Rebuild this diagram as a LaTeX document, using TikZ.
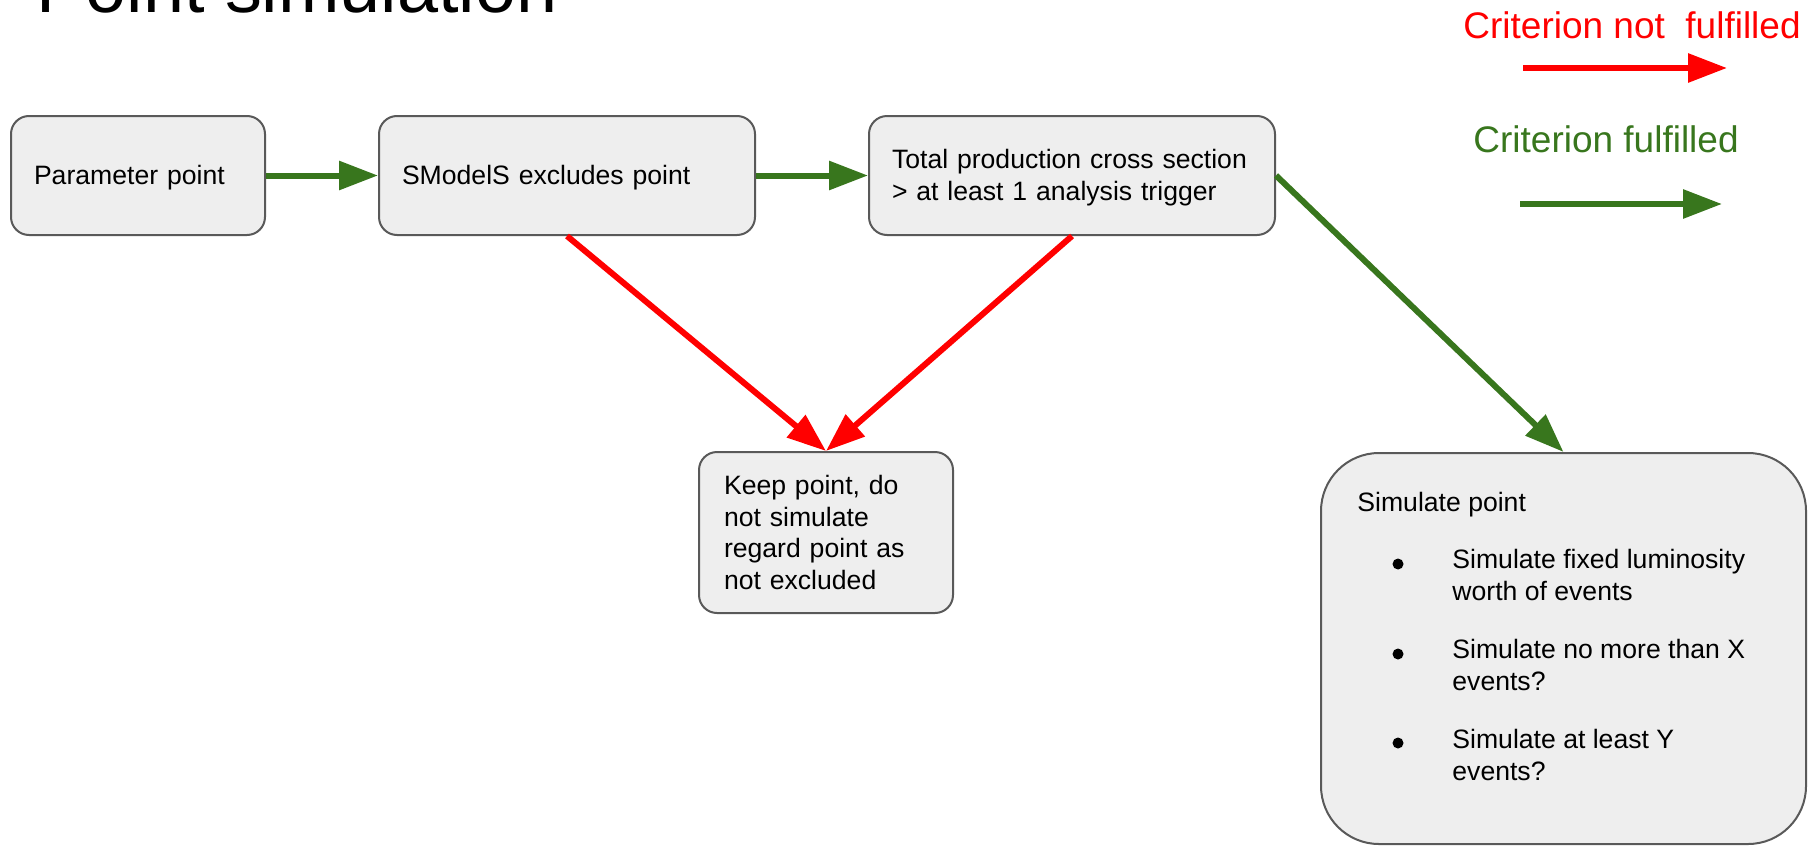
\documentclass[tikz,border=0pt]{standalone}
\usepackage{fontspec}
\setmainfont{Liberation Sans}
\usetikzlibrary{arrows.meta}
\definecolor{gslred}{HTML}{FF0000}
\definecolor{gslgreen}{HTML}{38761D}
\definecolor{boxfill}{HTML}{EEEEEE}
\definecolor{boxline}{HTML}{595959}
\begin{document}
\begin{tikzpicture}[x=0.5pt,y=-0.5pt,
  box/.style={draw=boxline, line width=1pt, fill=boxfill, rounded corners=9pt,
    inner xsep=11.5pt, inner ysep=0pt, align=left,
    font={\fontsize{13.3}{15.85}\selectfont}, minimum height=59.5pt},
  boxtext/.style={anchor=base west, inner sep=0pt, align=left,
    font={\fontsize{13.3}{15.85}\selectfont}},
  bulletdot/.style={circle, fill=black, inner sep=0pt, minimum size=5.5pt},
  yes/.style={draw=gslgreen, line width=3pt, -{Triangle[length=19.5pt,width=14pt]}},
  no/.style={draw=gslred, line width=3pt, -{Triangle[length=19.5pt,width=14pt]}},
  legendtext/.style={anchor=base west, inner sep=0pt, font={\fontsize{18.5}{22}\selectfont}}
]
\useasboundingbox (0,0) rectangle (1808,846);
\clip (0,0) rectangle (1808,846);

% title
\node[anchor=base west, inner sep=0pt, font={\fontsize{36.9}{44}\selectfont}] (title) at (36,12.7) {Point simulation};

% legend
\node[legendtext, text=gslred] (lno) at (1463,38) {Criterion not\ \ fulfilled};
\coordinate (lnoa) at (1523,68);
\coordinate (lnob) at (1727,68);
\draw[no] (lnoa) -- (lnob);
\node[legendtext, text=gslgreen] (lyes) at (1473,152) {Criterion fulfilled};
\coordinate (lyesa) at (1520,204);
\coordinate (lyesb) at (1722,204);
\draw[yes] (lyesa) -- (lyesb);

% boxes
\node[box, minimum width=127pt, text width=104pt] (b1) at (138,175.5) {\rule{0pt}{12pt}Parameter point};
\node[box, minimum width=188pt, text width=165pt] (b2) at (567,175.5) {\rule{0pt}{12pt}SModelS excludes point};
\node[box, minimum width=203pt, text width=180pt] (b3) at (1072,175.5) {\rule{0pt}{12pt}Total production cross section\\> at least 1 analysis trigger};
\node[box, minimum width=127pt, minimum height=80.5pt, text width=102pt, inner xsep=12.5pt] (b4) at (826,532.5) {Keep point, do\\not simulate\\regard point as\\not excluded};
\node[box, minimum width=242.5pt, minimum height=195.5pt, rounded corners=29pt] (b5) at (1563.5,648.5) {};

% contents of the simulate box (anchor on the last line's baseline)
\node[boxtext] (s0) at (1357,511) {Simulate point};
\node[bulletdot] (d1) at (1398,564) {};
\node[boxtext] (s1) at (1452,600) {Simulate fixed luminosity\\worth of events};
\node[bulletdot] (d2) at (1398,654) {};
\node[boxtext] (s2) at (1452,690) {Simulate no more than X\\events?};
\node[bulletdot] (d3) at (1398,743) {};
\node[boxtext] (s3) at (1452,780) {Simulate at least Y\\events?};

% connectors
\draw[yes] (b1) -- (b2);
\draw[yes] (b2) -- (b3);
\draw[yes] (b3.east) -- (b5.north);
\draw[no] (b2.south) -- (b4.north);
\draw[no] (b3.south) -- (b4.north);
\end{tikzpicture}
\end{document}
